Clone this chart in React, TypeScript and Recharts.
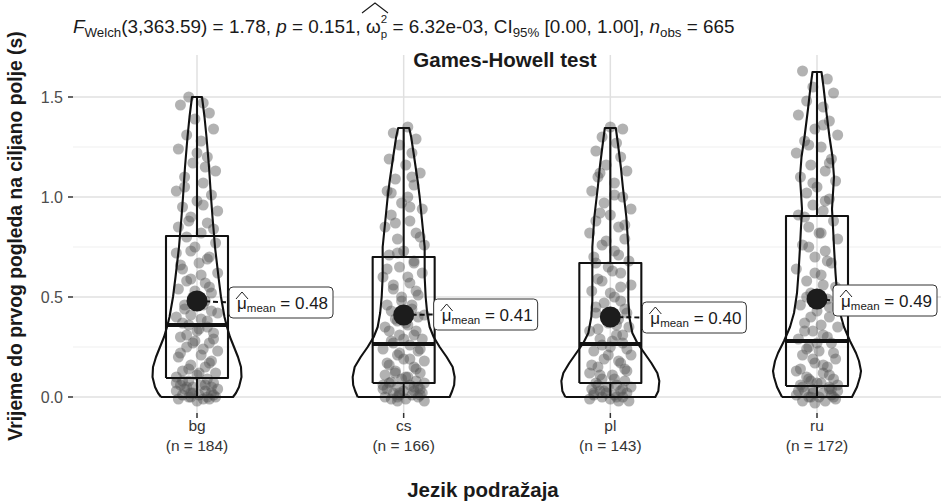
import React from 'react';
import { ComposedChart, Scatter, XAxis, YAxis, CartesianGrid } from 'recharts';

const FONT = "'Liberation Sans', Arial, Helvetica, sans-serif";

const CATEGORIES = ['bg', 'cs', 'pl', 'ru'];
const COUNTS = [184, 166, 143, 172];
const MEANS = [0.48, 0.41, 0.4, 0.49];
const MEAN_LABELS = ['0.48', '0.41', '0.40', '0.49'];
const Y_TICKS = [0, 0.5, 1, 1.5];
const Y_MINOR = [0.25, 0.75, 1.25];

// box stats: [min, q1, median, q3, max]
const BOX_BG = [0.0, 0.095, 0.36, 0.805, 1.5];
const BOX_CS = [0.0, 0.07, 0.265, 0.7, 1.345];
const BOX_PL = [0.0, 0.07, 0.265, 0.67, 1.345];
const BOX_RU = [0.0, 0.055, 0.28, 0.905, 1.625];

// violin density profiles: [y, relative density]
const DENS_BG = [[0.0, 36], [0.02, 39], [0.05, 42], [0.1, 44.5], [0.15, 44], [0.2, 41], [0.25, 37], [0.3, 33], [0.35, 30], [0.4, 27.5], [0.5, 24], [0.6, 21.5], [0.75, 18], [0.9, 15.5], [1.0, 14], [1.15, 12], [1.3, 9.5], [1.4, 7.5], [1.5, 5]];
const DENS_CS = [[0.0, 46], [0.03, 48.5], [0.06, 50.5], [0.1, 51], [0.15, 49], [0.2, 43], [0.25, 36], [0.3, 30], [0.35, 26], [0.42, 23.5], [0.5, 22], [0.6, 21], [0.75, 21], [0.9, 18], [1.0, 16], [1.08, 14], [1.2, 10.5], [1.3, 7.5], [1.345, 5.5]];
const DENS_PL = [[0.0, 45], [0.03, 48], [0.08, 49], [0.12, 47], [0.17, 41], [0.22, 34], [0.27, 27], [0.32, 22], [0.4, 19], [0.48, 18], [0.6, 18], [0.75, 18], [0.9, 16], [1.05, 12.5], [1.15, 10.5], [1.25, 8], [1.345, 5.5]];
const DENS_RU = [[0.0, 35], [0.05, 40], [0.1, 43], [0.13, 44], [0.18, 42], [0.22, 39], [0.28, 33], [0.35, 27], [0.42, 23], [0.52, 20], [0.62, 18.5], [0.75, 17], [0.85, 16], [0.94, 15], [1.02, 16], [1.1, 17], [1.2, 15.5], [1.3, 12.5], [1.44, 9], [1.55, 6.5], [1.625, 4.5]];

// jittered observations: [x offset (category units), y]
const PTS_BG = [
  [-0.04, 1.5], [0.03, 1.47], [-0.08, 1.46], [0.06, 1.42], [-0.01, 1.39], [0.08, 1.34], [-0.05, 1.31], [0.02, 1.28], [-0.09, 1.24], [0.05, 1.2],
  [-0.02, 1.17], [0.09, 1.13], [-0.06, 1.1], [0.03, 1.07], [-0.1, 1.03], [0.07, 1.01], [0.0, 0.98], [-0.07, 0.95], [0.1, 0.93], [-0.03, 0.9],
  [0.05, 0.87], [-0.09, 0.85], [0.02, 0.82], [-0.05, 0.8], [0.09, 0.77], [-0.01, 0.75], [-0.1, 0.72], [0.06, 0.7], [0.01, 0.67], [-0.07, 0.64],
  [0.1, 0.62], [-0.03, 0.59], [0.04, 0.57], [-0.09, 0.54], [0.07, 0.52], [-0.02, 0.5], [0.03, 0.46], [-0.06, 0.44], [0.1, 0.42], [-0.1, 0.4],
  [0.05, 0.38], [-0.04, 0.36], [0.01, 0.34], [0.08, 0.32], [-0.08, 0.3], [-0.01, 0.28], [0.06, 0.27], [-0.05, 0.25], [0.1, 0.23], [0.02, 0.21],
  [-0.09, 0.2], [0.07, 0.18], [-0.03, 0.16], [0.04, 0.15], [-0.07, 0.13], [0.09, 0.12], [0.0, 0.11], [-0.1, 0.1], [0.05, 0.09], [-0.04, 0.08],
  [0.08, 0.07], [-0.08, 0.06], [0.02, 0.06], [-0.02, 0.05], [0.1, 0.04], [-0.06, 0.04], [0.04, 0.03], [-0.1, 0.03], [0.07, 0.02], [-0.03, 0.02],
  [0.01, 0.01], [-0.07, 0.01], [0.09, 0.0], [-0.04, 0.0], [0.03, -0.01], [-0.09, -0.01], [0.06, -0.01], [0.0, -0.02], [-0.05, 0.05], [0.05, 0.0],
  [-0.02, 0.02], [0.07, 0.05], [-0.07, 0.08], [0.01, 0.12], [-0.04, 0.14], [0.06, 0.17], [-0.08, 0.22], [0.03, 0.24], [-0.02, 0.27], [0.08, 0.29],
  [-0.05, 0.31], [0.0, 0.33], [0.05, 0.35], [-0.07, 0.37], [0.02, 0.39], [-0.03, 0.41], [0.07, 0.43], [-0.06, 0.46], [0.04, 0.48], [-0.01, 0.53],
  [0.06, 0.55], [-0.05, 0.58], [0.02, 0.61], [-0.08, 0.66], [0.05, 0.69], [-0.03, 0.73], [0.08, 0.84], [-0.04, 0.88], [0.03, 0.96], [-0.06, 1.05],
  [0.04, 1.15], [0.0, 1.22], [-0.03, 0.0], [0.08, 0.01], [-0.1, 0.07], [0.04, 0.06],
];
const PTS_CS = [
  [0.02, 1.35], [-0.05, 1.32], [0.06, 1.29], [-0.02, 1.26], [0.04, 1.22], [-0.07, 1.19], [0.01, 1.16], [0.08, 1.12], [-0.04, 1.09], [0.05, 1.06],
  [-0.08, 1.03], [0.02, 1.0], [-0.01, 0.97], [0.09, 0.94], [-0.06, 0.91], [0.03, 0.88], [-0.09, 0.85], [0.06, 0.82], [-0.03, 0.79], [0.1, 0.76],
  [0.0, 0.73], [-0.07, 0.71], [0.05, 0.68], [-0.02, 0.65], [0.09, 0.62], [-0.1, 0.6], [0.03, 0.57], [-0.05, 0.54], [0.07, 0.51], [-0.01, 0.48],
  [-0.08, 0.46], [0.04, 0.44], [0.1, 0.41], [-0.04, 0.39], [0.01, 0.37], [-0.09, 0.35], [0.06, 0.33], [-0.02, 0.31], [0.09, 0.29], [-0.06, 0.28],
  [0.03, 0.26], [-0.1, 0.24], [0.07, 0.23], [-0.03, 0.21], [0.0, 0.19], [0.1, 0.18], [-0.07, 0.16], [0.05, 0.15], [-0.04, 0.13], [0.08, 0.12],
  [-0.09, 0.11], [0.02, 0.1], [-0.01, 0.09], [0.06, 0.08], [-0.06, 0.075], [0.1, 0.07], [-0.1, 0.06], [0.03, 0.06], [-0.03, 0.05], [0.08, 0.04],
  [-0.08, 0.04], [0.0, 0.03], [0.05, 0.03], [-0.05, 0.02], [0.09, 0.02], [-0.02, 0.01], [0.04, 0.01], [-0.09, 0.0], [0.07, 0.0], [0.01, -0.01],
  [-0.06, -0.01], [0.1, -0.02], [-0.03, -0.02], [0.05, 0.05],
  [-0.02, 0.02], [0.07, 0.05], [-0.07, 0.07], [0.01, 0.1], [-0.04, 0.12], [0.06, 0.14], [-0.08, 0.17], [0.03, 0.19], [-0.02, 0.22], [0.08, 0.24],
  [-0.05, 0.27], [0.0, 0.29], [0.05, 0.31], [-0.07, 0.33], [0.02, 0.36], [-0.03, 0.38], [0.07, 0.4], [-0.06, 0.43], [0.04, 0.46], [-0.01, 0.5],
  [0.06, 0.53], [-0.05, 0.56], [0.02, 0.6], [-0.08, 0.64], [0.05, 0.67], [-0.03, 0.72], [0.08, 0.8], [-0.04, 0.87], [0.03, 0.95], [-0.06, 1.02],
  [0.04, 1.1], [-0.03, 0.0], [0.08, 0.01], [-0.1, 0.04],
];
const PTS_PL = [
  [0.0, 1.35], [0.06, 1.34], [-0.04, 1.3], [0.03, 1.27], [-0.07, 1.23], [0.05, 1.2], [-0.02, 1.16], [0.08, 1.13], [-0.06, 1.1], [0.02, 1.07],
  [-0.09, 1.03], [0.06, 1.0], [-0.03, 0.97], [0.1, 0.94], [0.0, 0.91], [-0.07, 0.88], [0.04, 0.85], [-0.1, 0.82], [0.07, 0.79], [-0.04, 0.76],
  [0.02, 0.73], [-0.08, 0.7], [0.09, 0.68], [-0.01, 0.65], [0.05, 0.62], [-0.06, 0.59], [0.1, 0.56], [-0.09, 0.53], [0.02, 0.5], [-0.03, 0.47],
  [0.07, 0.44], [-0.07, 0.42], [0.04, 0.39], [-0.01, 0.37], [0.09, 0.35], [-0.1, 0.33], [0.03, 0.31], [-0.05, 0.29], [0.06, 0.27], [0.0, 0.25],
  [-0.08, 0.23], [0.1, 0.21], [-0.03, 0.19], [0.05, 0.17], [-0.06, 0.15], [0.08, 0.13], [-0.1, 0.12], [0.01, 0.11], [-0.04, 0.09], [0.07, 0.08],
  [-0.07, 0.07], [0.03, 0.06], [-0.01, 0.05], [0.1, 0.05], [-0.09, 0.04], [0.05, 0.03], [-0.05, 0.03], [0.08, 0.02], [-0.02, 0.02], [0.02, 0.01],
  [-0.08, 0.01], [0.06, 0.0], [-0.04, 0.0], [0.0, -0.01], [-0.1, -0.01], [0.09, -0.02], [0.04, -0.02],
  [-0.03, 0.03], [0.06, 0.04], [-0.06, 0.06], [0.02, 0.09], [-0.05, 0.11], [0.07, 0.14], [-0.09, 0.16], [0.04, 0.18], [-0.01, 0.21], [0.08, 0.24],
  [-0.04, 0.26], [0.01, 0.28], [0.06, 0.31], [-0.06, 0.34], [0.03, 0.36], [-0.02, 0.4], [0.08, 0.42], [-0.07, 0.45], [0.05, 0.48], [0.0, 0.52],
  [0.05, 0.55], [-0.04, 0.58], [0.01, 0.63], [-0.07, 0.67], [0.04, 0.71], [-0.02, 0.78], [0.07, 0.86], [-0.05, 0.92], [0.02, 1.01], [-0.05, 1.12],
  [0.03, 0.0], [-0.08, 0.02],
];
const PTS_RU = [
  [-0.07, 1.63], [0.05, 1.59], [-0.02, 1.55], [0.08, 1.52], [-0.05, 1.48], [0.03, 1.45], [-0.09, 1.41], [0.06, 1.38], [-0.01, 1.34], [0.1, 1.31],
  [-0.06, 1.28], [0.02, 1.25], [-0.1, 1.22], [0.07, 1.19], [-0.03, 1.16], [0.04, 1.13], [-0.08, 1.1], [0.09, 1.08], [0.0, 1.05], [-0.05, 1.02],
  [0.06, 0.99], [-0.02, 0.96], [0.03, 0.93], [-0.09, 0.91], [0.08, 0.88], [-0.04, 0.85], [0.01, 0.82], [0.1, 0.79], [-0.07, 0.76], [0.04, 0.73],
  [-0.01, 0.7], [0.07, 0.67], [-0.1, 0.64], [0.02, 0.61], [-0.05, 0.58], [0.09, 0.55], [-0.03, 0.52], [0.05, 0.49], [-0.08, 0.46], [0.0, 0.43],
  [0.06, 0.4], [-0.06, 0.37], [0.1, 0.35], [-0.02, 0.33], [0.03, 0.31], [-0.09, 0.29], [0.07, 0.27], [-0.04, 0.25], [0.01, 0.23], [-0.07, 0.21],
  [0.09, 0.19], [-0.01, 0.17], [0.05, 0.15], [-0.1, 0.13], [0.03, 0.12], [-0.05, 0.1], [0.08, 0.09], [-0.03, 0.08], [0.0, 0.07], [-0.08, 0.06],
  [0.06, 0.05], [-0.02, 0.04], [0.1, 0.03], [-0.06, 0.03], [0.03, 0.02], [-0.1, 0.01], [0.07, 0.01], [-0.04, 0.0], [0.01, 0.0], [0.09, -0.01],
  [-0.07, -0.02], [0.04, -0.02], [-0.01, -0.03], [0.06, 0.04],
  [-0.02, 0.02], [0.07, 0.04], [-0.07, 0.05], [0.02, 0.07], [-0.04, 0.09], [0.06, 0.11], [-0.08, 0.14], [0.03, 0.16], [-0.02, 0.19], [0.08, 0.22],
  [-0.05, 0.24], [0.0, 0.27], [0.05, 0.3], [-0.06, 0.33], [0.02, 0.36], [-0.03, 0.4], [0.06, 0.45], [-0.05, 0.5], [0.03, 0.56], [-0.01, 0.62],
  [0.05, 0.68], [-0.04, 0.75], [0.02, 0.82], [-0.06, 0.9], [0.04, 0.98], [-0.02, 1.07], [0.06, 1.17], [-0.04, 1.26], [0.03, 1.36], [-0.03, 0.0],
  [0.08, 0.0], [-0.09, 0.03], [0.1, 0.06],
];

const GROUPS = [
  { pts: PTS_BG, box: BOX_BG, dens: DENS_BG },
  { pts: PTS_CS, box: BOX_CS, dens: DENS_CS },
  { pts: PTS_PL, box: BOX_PL, dens: DENS_PL },
  { pts: PTS_RU, box: BOX_RU, dens: DENS_RU },
];

// style / layout constants
const W = 942;
const H = 504;
const VIOLIN_UNIT = 1 / 206.7; // density value -> category units
const BOX_HALF = 0.15;
const LINE = '#111111';
const LABEL_DX = [32, 30, 32, 16];
const LABEL_DY = [-14, -16, -15, -14];

const Empty = () => <g />;

const Dot = (p: any) => <circle cx={p.cx} cy={p.cy} r={5.5} fill="#555555" fillOpacity={0.45} />;

const MeanShape = (p: any) => {
  const { cx, cy, payload } = p;
  const g = payload.g;
  const bx = cx + LABEL_DX[g];
  const by = cy + LABEL_DY[g];
  const bw = 104;
  const bh = 31;
  return (
    <g>
      <line x1={cx} y1={cy} x2={bx} y2={by + bh / 2} stroke="#111" strokeWidth={2} strokeDasharray="5 3" />
      <circle cx={cx} cy={cy} r={10.5} fill="#1c1c1c" />
      <rect x={bx} y={by} width={bw} height={bh} rx={4} fill="#ffffff" stroke="#333" strokeWidth={1} />
      <path d={`M${bx + 7},${by + 12} L${bx + 13},${by + 5} L${bx + 19},${by + 12}`} fill="none" stroke="#222" strokeWidth={1} />
      <text x={bx + 8} y={by + 22} fontSize={17} fill="#1a1a1a" fontFamily={FONT}>
        <tspan>μ</tspan>
        <tspan fontSize={11.5} dy={3}>mean</tspan>
        <tspan dy={-3}>{' = ' + MEAN_LABELS[g]}</tspan>
      </text>
    </g>
  );
};

const XTick = (p: any) => {
  const { x, y, payload } = p;
  const i = Math.round(payload.value) - 1;
  if (i < 0 || i >= CATEGORIES.length) return <g />;
  return (
    <text x={x} y={y} textAnchor="middle" fontSize={15.5} fill="#333" fontFamily={FONT}>
      <tspan x={x} dy={11}>{CATEGORIES[i]}</tspan>
      <tspan x={x} dy={20}>{`(n = ${COUNTS[i]})`}</tspan>
    </text>
  );
};

export default function App() {
  const series: React.ReactNode[] = [];

  GROUPS.forEach((grp, g) => {
    const c = g + 1;
    series.push(
      <Scatter
        key={`pts-${g}`}
        data={grp.pts.map(([dx, y]) => ({ x: c + dx, y }))}
        dataKey="y"
        shape={Dot}
        isAnimationActive={false}
      />
    );
  });

  GROUPS.forEach((grp, g) => {
    const c = g + 1;
    const [mn, q1, med, q3, mx] = grp.box;
    const lineStyle = { stroke: LINE, strokeWidth: 2.1, strokeLinejoin: 'round' };
    const boxPoly = [
      { x: c - BOX_HALF, y: q1 }, { x: c + BOX_HALF, y: q1 }, { x: c + BOX_HALF, y: q3 },
      { x: c - BOX_HALF, y: q3 }, { x: c - BOX_HALF, y: q1 },
    ];
    series.push(
      <Scatter key={`wu-${g}`} data={[{ x: c, y: q3 }, { x: c, y: mx }]} dataKey="y" line={lineStyle} shape={Empty} isAnimationActive={false} />,
      <Scatter key={`wl-${g}`} data={[{ x: c, y: q1 }, { x: c, y: mn }]} dataKey="y" line={lineStyle} shape={Empty} isAnimationActive={false} />,
      <Scatter key={`box-${g}`} data={boxPoly} dataKey="y" line={lineStyle} shape={Empty} isAnimationActive={false} />,
      <Scatter key={`med-${g}`} data={[{ x: c - BOX_HALF, y: med }, { x: c + BOX_HALF, y: med }]} dataKey="y" line={{ stroke: LINE, strokeWidth: 3.8 }} shape={Empty} isAnimationActive={false} />
    );
    const left = grp.dens.map(([y, d]) => ({ x: c - d * VIOLIN_UNIT, y }));
    const right = grp.dens.slice().reverse().map(([y, d]) => ({ x: c + d * VIOLIN_UNIT, y }));
    const poly = [...left, ...right, left[0]];
    series.push(
      <Scatter key={`vio-${g}`} data={poly} dataKey="y" line={lineStyle} shape={Empty} isAnimationActive={false} />
    );
  });

  const meanData = MEANS.map((m, g) => ({ x: g + 1, y: m, g }));
  series.push(<Scatter key="means" data={meanData} dataKey="y" shape={MeanShape} isAnimationActive={false} />);

  return (
    <div style={{ position: 'absolute', left: 0, top: 0, width: W, height: H, background: '#fff' }}>
      <ComposedChart width={W} height={H} margin={{ top: 55, right: 1, bottom: 0, left: 0 }}>
        <CartesianGrid horizontalValues={Y_MINOR} vertical={false} stroke="#ebebeb" strokeWidth={0.8} />
        <CartesianGrid horizontalValues={Y_TICKS} verticalValues={[1, 2, 3, 4]} stroke="#e0e0e0" strokeWidth={1.5} />
        <XAxis
          type="number"
          dataKey="x"
          domain={[0.4, 4.6]}
          ticks={[1, 2, 3, 4]}
          allowDataOverflow
          height={91}
          axisLine={false}
          tickSize={5}
          tickLine={{ stroke: '#333', strokeWidth: 1.5 }}
          tick={XTick}
          interval={0}
        />
        <YAxis
          type="number"
          dataKey="y"
          domain={[-0.08, 1.71]}
          ticks={Y_TICKS}
          allowDataOverflow
          width={73}
          axisLine={false}
          tickSize={5}
          tickMargin={5}
          tickLine={{ stroke: '#333', strokeWidth: 1.5 }}
          tickFormatter={(v: number) => v.toFixed(1)}
          tick={{ fontSize: 16, fill: '#4d4d4d', fontFamily: FONT }}
        />
        {series}
      </ComposedChart>
      <svg width={W} height={H} style={{ position: 'absolute', left: 0, top: 0, pointerEvents: 'none' }}>
        <text x={73} y={33} fontSize={18.9} fill="#1a1a1a" fontFamily={FONT}>
          <tspan fontStyle="italic">F</tspan>
          <tspan fontSize={13.3} dy={4}>Welch</tspan>
          <tspan dy={-4}>{'(3,363.59) = 1.78, '}</tspan>
          <tspan fontStyle="italic">p</tspan>
          <tspan>{' = 0.151, '}</tspan>
          <tspan>ω</tspan>
          <tspan fontSize={11.5} dy={-10}>2</tspan>
          <tspan fontSize={11.5} dx={-6.4} dy={15}>p</tspan>
          <tspan dy={-5}>{' = 6.32e-03, CI'}</tspan>
          <tspan fontSize={13.3} dy={4}>95%</tspan>
          <tspan dy={-4}>{' [0.00, 1.00], '}</tspan>
          <tspan fontStyle="italic">n</tspan>
          <tspan fontSize={13.3} dy={4}>obs</tspan>
          <tspan dy={-4}>{' = 665'}</tspan>
        </text>
        <path d="M362,13 L375,3 L388,13" fill="none" stroke="#1a1a1a" strokeWidth={1.1} />
        <text x={505} y={67} textAnchor="middle" fontSize={20.5} fontWeight="bold" fill="#1a1a1a" fontFamily={FONT}>
          Games-Howell test
        </text>
        <text transform="rotate(-90)" x={-236} y={22} textAnchor="middle" fontSize={19.3} fontWeight="bold" fill="#1a1a1a" fontFamily={FONT}>
          Vrijeme do prvog pogleda na ciljano polje (s)
        </text>
        <text x={483} y={497} textAnchor="middle" fontSize={20.5} fontWeight="bold" fill="#1a1a1a" fontFamily={FONT}>
          Jezik podražaja
        </text>
      </svg>
    </div>
  );
}
